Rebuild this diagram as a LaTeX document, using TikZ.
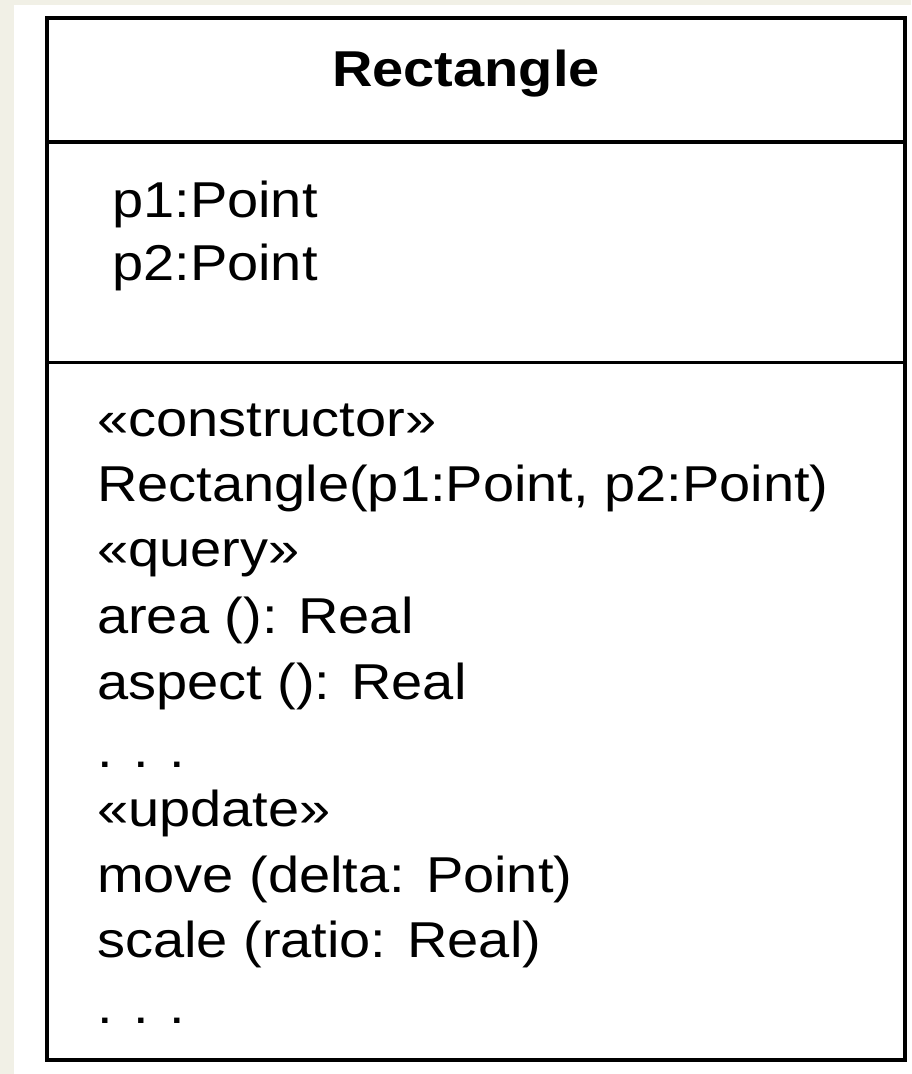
\documentclass[tikz,border=0pt]{standalone}
\usepackage{graphicx}
\usepackage{fontspec}
\setmainfont{Liberation Sans}
\definecolor{paper}{RGB}{241,240,230}
% glyphs are set slightly narrower in height than in width
\newcommand{\flatline}[1]{\scalebox{1}[0.9]{#1}}
\begin{document}
\begin{tikzpicture}[x=1pt,y=-1pt,
  frame/.style={draw=black,line width=3.8pt},
  txt/.style={anchor=base west,inner sep=0pt,font=\fontsize{56}{64}\selectfont},
  ttl/.style={anchor=base,inner sep=0pt,font=\fontsize{56}{64}\selectfont\bfseries}]
\useasboundingbox (0,0) rectangle (911,1074);
\fill[paper] (0,0) rectangle (911,1074);
\fill[white] (14,5) rectangle (911,1074);
% class compartments
\draw[frame] (47,18) rectangle (905,1060);
\draw[frame] (47,142) -- (905,142);
\draw[frame] (47,362.5) -- (905,362.5);
% name compartment
\node[ttl] (name) at (466,86.5) {\flatline{Rectangle}};
% attribute compartment
\node[txt] (a1) at (112,217) {\flatline{p1:Point}};
\node[txt] (a2) at (112,280) {\flatline{p2:Point}};
% operation compartment
\node[txt] (o1) at (97,436) {\flatline{«constructor»}};
\node[txt] (o2) at (97,501) {\flatline{Rectangle(p1:Point, p2:Point)}};
\node[txt] (o3) at (97,566) {\flatline{«query»}};
\node[txt] (o4) at (97,633) {\flatline{area (): Real}};
\node[txt] (o5) at (97,699) {\flatline{aspect (): Real}};
\node[txt] (o6) at (97,767) {\flatline{. . .}};
\node[txt] (o7) at (97,826) {\flatline{«update»}};
\node[txt] (o8) at (97,892) {\flatline{move (delta: Point)}};
\node[txt] (o9) at (97,957) {\flatline{scale (ratio: Real)}};
\node[txt] (o10) at (97,1023) {\flatline{. . .}};
\end{tikzpicture}
\end{document}
